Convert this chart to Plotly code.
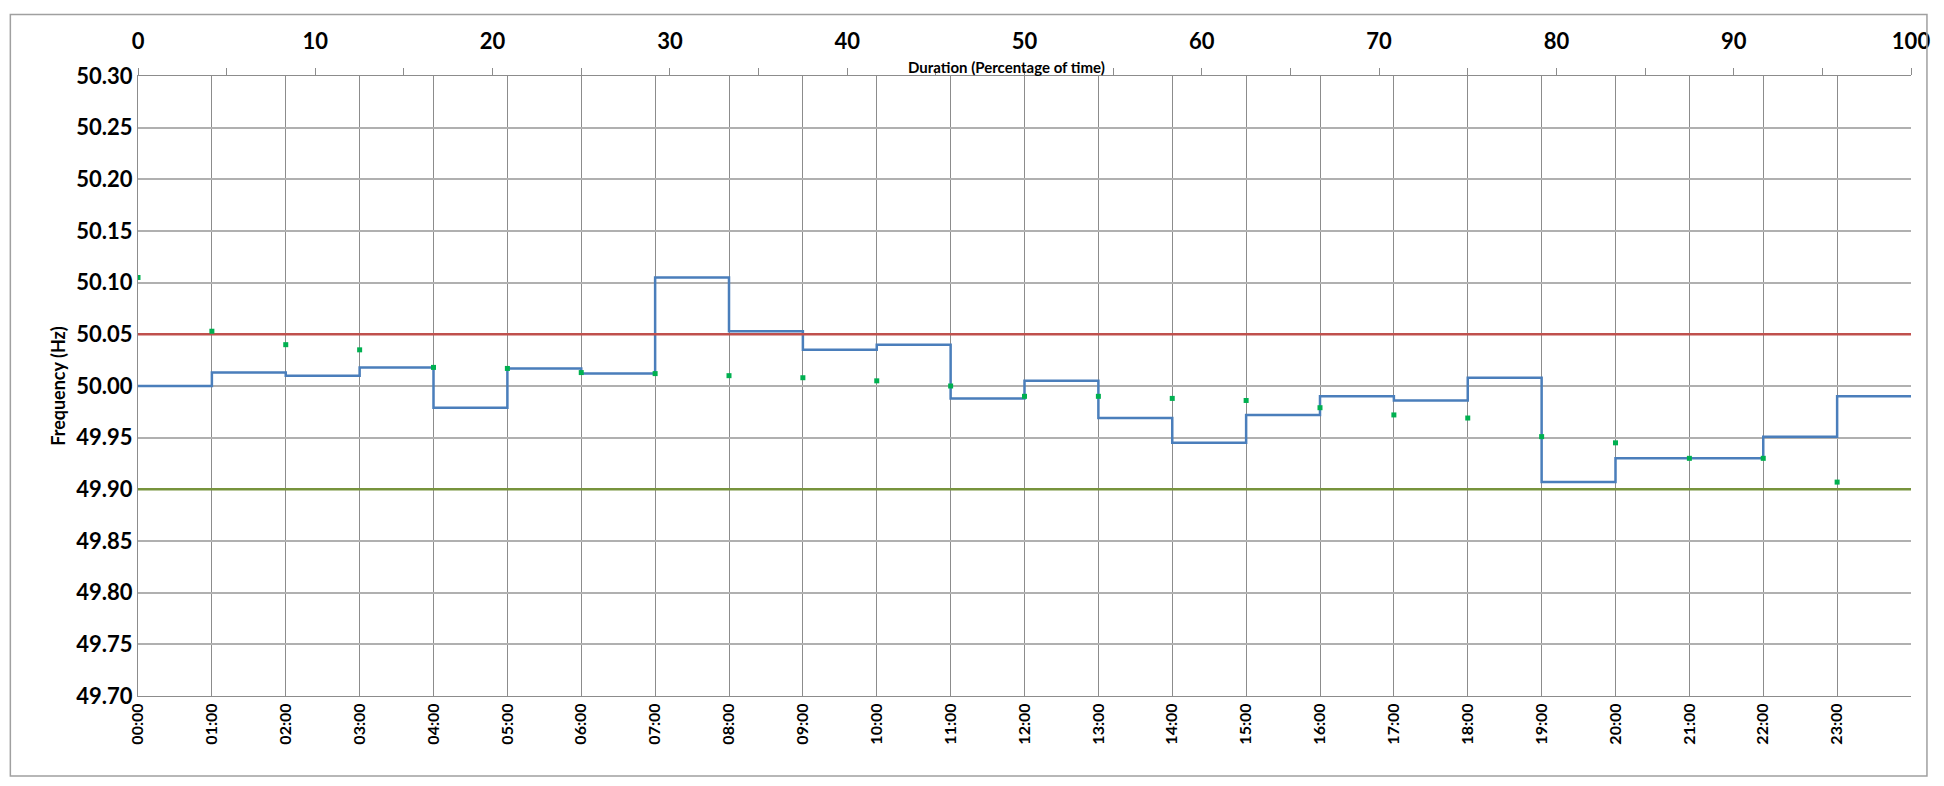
import plotly.graph_objects as go

hours = list(range(24))
hour_labels = [f"{h:02d}:00" for h in hours]
freq = [50.000, 50.013, 50.010, 50.018, 49.979, 50.017, 50.012, 50.105, 50.053, 50.035,
        50.040, 49.988, 50.005, 49.969, 49.945, 49.972, 49.990, 49.986, 50.008, 49.907,
        49.930, 49.930, 49.951, 49.990]
# duration curve points (percentage of time)
dur_pct = [i * 100 / 24 for i in range(24)]
dur_freq = [50.105, 50.053, 50.040, 50.035, 50.018, 50.017, 50.013, 50.012, 50.010, 50.008,
            50.005, 50.000, 49.990, 49.990, 49.988, 49.986, 49.979, 49.972, 49.969, 49.951,
            49.945, 49.930, 49.930, 49.907]
upper_limit = 50.05
lower_limit = 49.90

fig = go.Figure()
fig.add_trace(go.Scatter(x=hours + [24], y=freq + [freq[-1]], mode="lines", line_shape="hv",
                         line=dict(color="#4a7ebb", width=2.5), showlegend=False))
fig.add_trace(go.Scatter(x=[0, 24], y=[upper_limit] * 2, mode="lines",
                         line=dict(color="#c0504d", width=2.5), showlegend=False))
fig.add_trace(go.Scatter(x=[0, 24], y=[lower_limit] * 2, mode="lines",
                         line=dict(color="#77933c", width=2.5), showlegend=False))
fig.add_trace(go.Scatter(x=dur_pct, y=dur_freq, mode="markers", xaxis="x2",
                         marker=dict(color="#00b050", size=5, symbol="square"), showlegend=False))

fam = "Lato"
fig.update_layout(
    width=1944, height=786, plot_bgcolor="white", paper_bgcolor="white",
    margin=dict(l=130, r=41, t=68, b=98),
    font=dict(family=fam, color="black"),
    xaxis=dict(range=[0, 24], tickmode="array", tickvals=hours, ticktext=hour_labels,
               tickangle=-90, tickfont=dict(size=16, family=fam, color="black", weight="bold"),
               showgrid=True, gridcolor="#8c8c8c", gridwidth=1, zeroline=False,
               showline=True, linecolor="#8c8c8c", ticks=""),
    xaxis2=dict(range=[0, 100], overlaying="x", side="top", dtick=10,
                tickfont=dict(size=22, family=fam, color="black", weight="bold"),
                showgrid=False, zeroline=False, showline=True, linecolor="#8c8c8c",
                ticks="outside", ticklen=7, tickcolor="#8c8c8c", ticklabelstandoff=10,
                minor=dict(dtick=5, ticks="outside", ticklen=7, tickcolor="#8c8c8c")),
    yaxis=dict(range=[49.70, 50.30], dtick=0.05, tickformat=".2f",
               tickfont=dict(size=22, family=fam, color="black", weight="bold"),
               showgrid=True, gridcolor="#b0b0b0", gridwidth=1.5, zeroline=False,
               showline=True, linecolor="#8c8c8c", ticks="",
               title=dict(text="<b>Frequency (Hz)</b>", font=dict(size=18), standoff=6)),
    annotations=[dict(text="<b>Duration (Percentage of time)</b>", xref="paper", yref="paper",
                      x=0.49, y=1.0, yanchor="bottom", yshift=-2, showarrow=False, font=dict(size=15))],
    shapes=[dict(type="rect", xref="paper", yref="paper", x0=-0.072, x1=1.009, y0=-0.129, y1=1.099,
                 line=dict(color="#a0a0a0", width=1.5))],
)
fig.write_html("out.html")
